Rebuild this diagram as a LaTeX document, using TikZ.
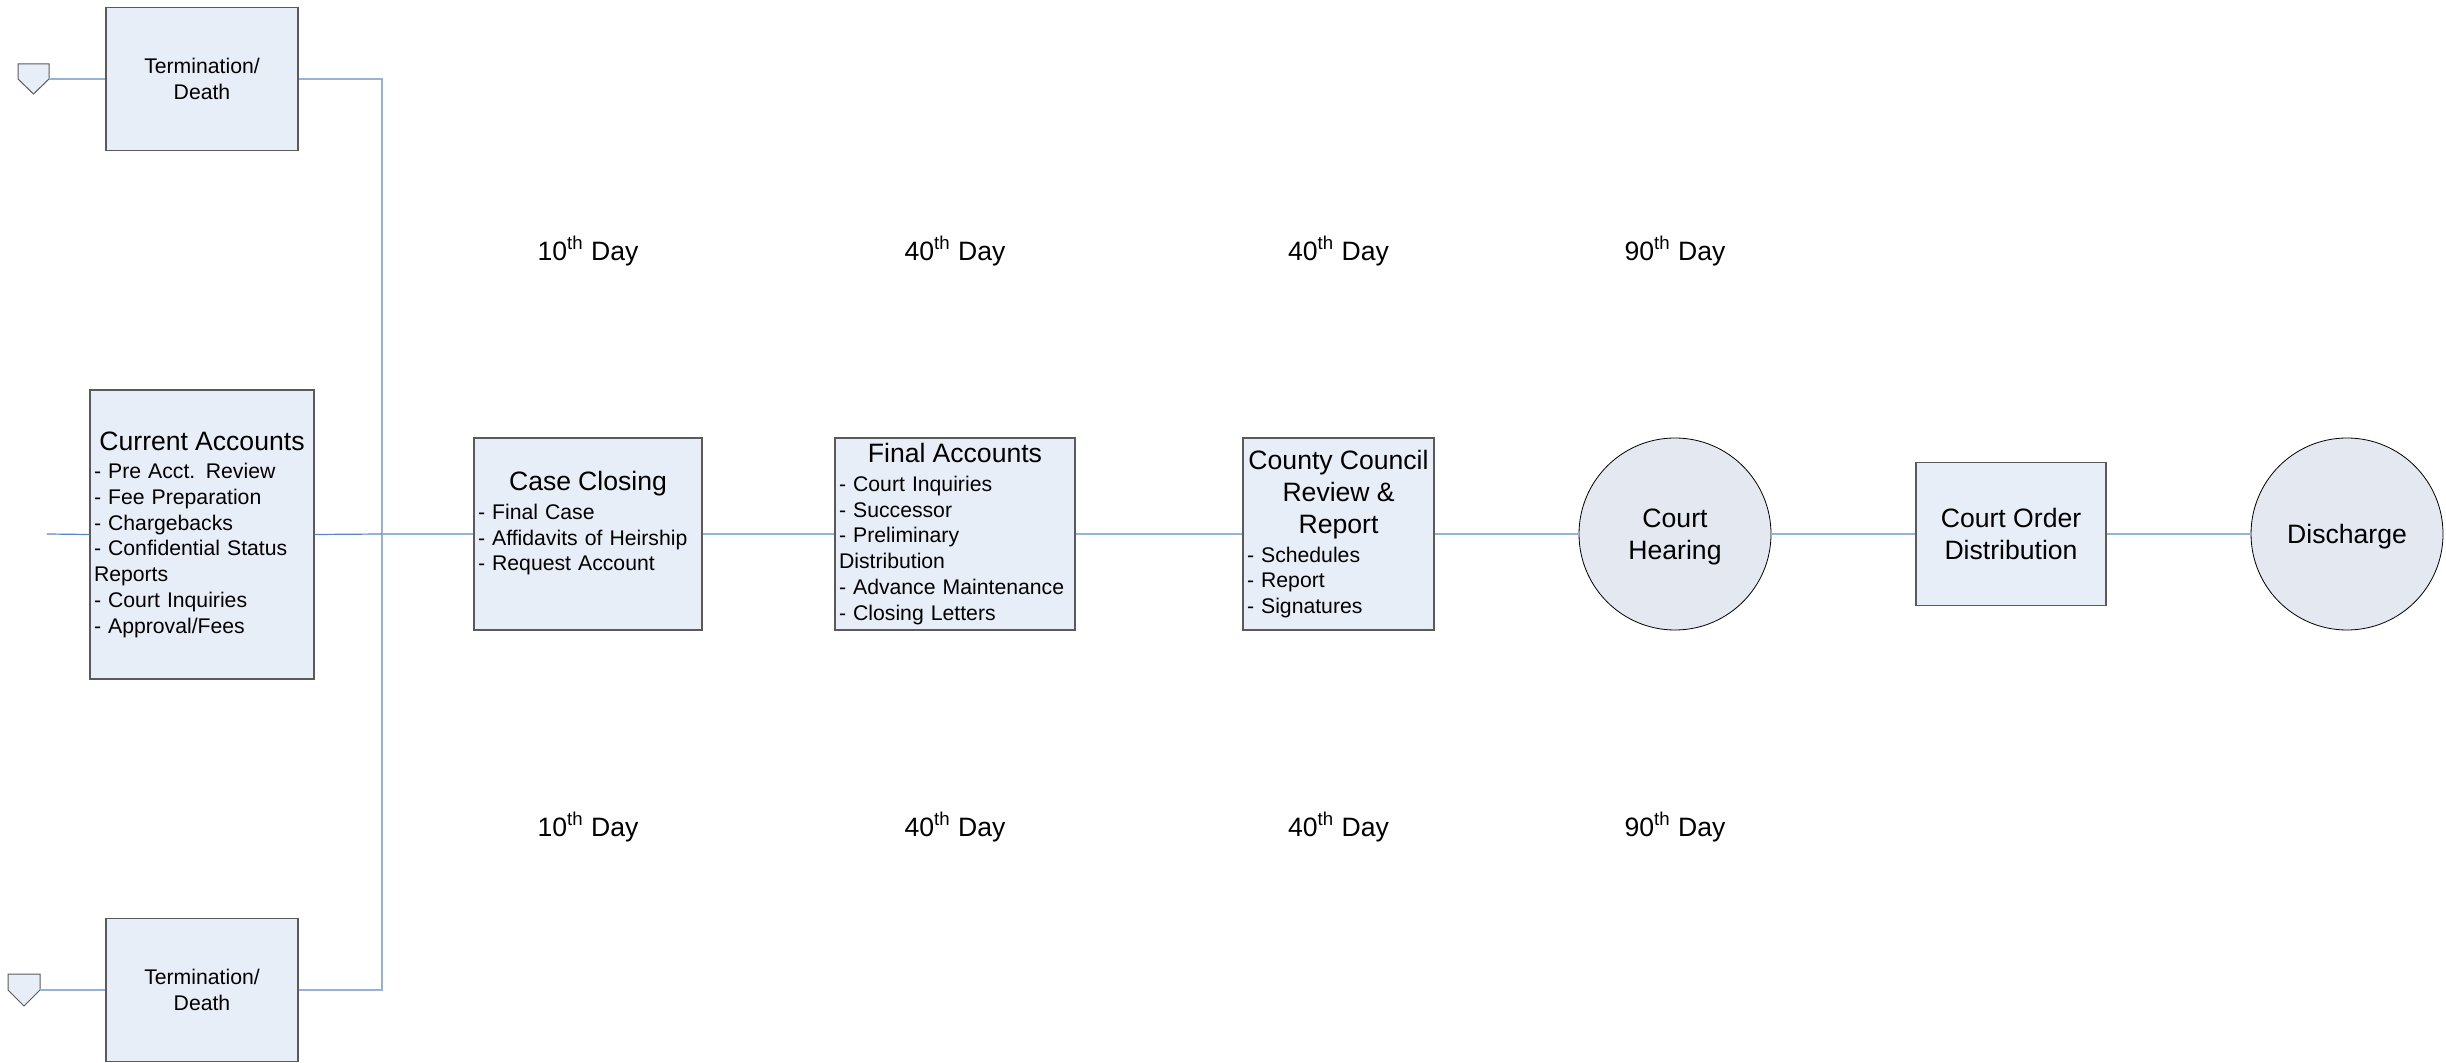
\documentclass[tikz,border=0pt]{standalone}
\usepackage{fontspec}
\setmainfont{Liberation Sans}
\definecolor{boxfill}{HTML}{E8EEF7}
\definecolor{circfill}{HTML}{E3E8F1}
\definecolor{boxedge}{HTML}{5A5A5A}
\definecolor{flowline}{HTML}{95B3D7}
\definecolor{flowdark}{HTML}{5B84C4}
\newcommand{\ttlfont}{\fontsize{13.3pt}{16pt}\selectfont}
\newcommand{\itmfont}{\fontsize{10.6pt}{12.85pt}\selectfont}
\newcommand{\boxtitle}[1]{{\centering\ttlfont #1\par}\vspace{1.5pt}}

\begin{document}
\begin{tikzpicture}[x=0.5pt,y=-0.5pt, every node/.style={font=\itmfont},
    stagebox/.style={rectangle,draw=boxedge,fill=boxfill,line width=0.6pt,inner xsep=2pt,inner ysep=0pt,align=left},
    stageround/.style={circle,draw=black,fill=circfill,line width=0.4pt,minimum size=96pt,inner sep=0pt,align=center,font=\ttlfont,text depth=0pt},
    offpage/.style={draw=boxedge,fill=boxfill,line width=0.5pt,line join=miter},
    flow/.style={draw=flowline,line width=0.6pt}]
        \useasboundingbox (0,0) rectangle (2446,1063);
        % off-page connectors
        \draw[offpage] (18,64) -- (49,64) -- (49,79) -- (33.5,94) -- (18,79) -- cycle;
        \coordinate (off1) at (49,79);
        \draw[offpage] (8,974) -- (40,974) -- (40,990) -- (24,1006) -- (8,990) -- cycle;
        \coordinate (off2) at (40,990);
        % termination inputs
        \node[stagebox,minimum width=96pt,minimum height=71.5pt,align=center] (term1) at (202,79) {Termination/\\Death};
        \node[stagebox,minimum width=96pt,minimum height=71.5pt,align=center] (term2) at (202,990) {Termination/\\Death};
        \coordinate (lstub) at (47,534);
        \coordinate (jn) at (382,534);
        % main flow
        \node[stagebox,minimum width=112pt,minimum height=144.5pt,text width=108pt] (cur) at (202,534.5) {\boxtitle{Current Accounts}- Pre Acct. Review\\- Fee Preparation\\- Chargebacks\\- Confidential Status\\Reports\\- Court Inquiries\\- Approval/Fees};
        \node[stagebox,minimum width=114pt,minimum height=96pt,text width=110pt] (case) at (588,534) {\boxtitle{Case Closing}- Final Case\\- Affidavits of Heirship\\- Request Account\\~};
        \node[stagebox,minimum width=120pt,minimum height=96pt,text width=116pt] (final) at (955,534) {\boxtitle{Final Accounts}- Court Inquiries\\- Successor\\- Preliminary\\Distribution\\- Advance Maintenance\\- Closing Letters};
        \node[stagebox,minimum width=95.5pt,minimum height=96pt,text width=91.5pt] (county) at (1338.5,534) {\boxtitle{County Council\\Review \&\\Report}- Schedules\\- Report\\- Signatures};
        \node[stageround] (hear) at (1675,534) {Court\\Hearing};
        \node[stagebox,minimum width=95pt,minimum height=71.5pt,align=center,font=\ttlfont] (order) at (2011,534) {Court Order\\Distribution};
        \node[stageround] (dis) at (2347,534) {Discharge};
        % day marks
        \foreach \x/\d [count=\i] in {588/10,955/40,1338.5/40,1675/90} {
            \node[font=\ttlfont] (daytop\i) at (\x,251) {\d\textsuperscript{th} Day};
            \node[font=\ttlfont] (daybot\i) at (\x,827) {\d\textsuperscript{th} Day};
        }
        \draw[flow] (off1) -- (term1);
        \draw[flow] (off2) -- (term2);
        \draw[flow] (term1.east) -| (jn) |- (term2.east);
        \draw[flow,draw=flowdark] (lstub) -- (cur.west);
        \draw[flow,draw=flowdark] (cur.east) -- (jn);
        \draw[flow] (jn) -- (case.west);
        \draw[flow] (case) -- (final);
        \draw[flow] (final) -- (county);
        \draw[flow] (county) -- (hear);
        \draw[flow] (hear) -- (order);
        \draw[flow] (order) -- (dis);
      \end{tikzpicture}
\end{document}
